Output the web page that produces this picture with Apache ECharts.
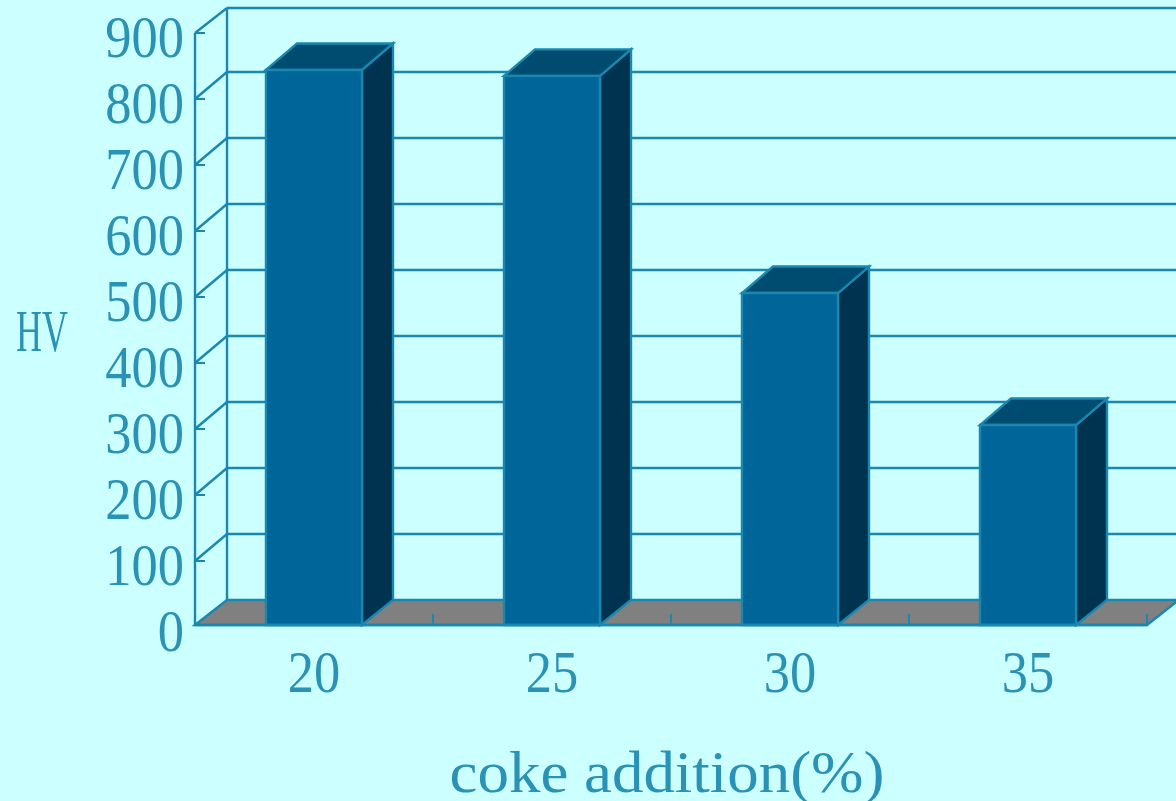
<!DOCTYPE html>
<html>
<head>
<meta charset="utf-8">
<style>
  html, body { margin: 0; padding: 0; background: #CCFFFF; }
  #chart { width: 1176px; height: 801px; }
</style>
<script src="https://cdn.jsdelivr.net/npm/echarts@6/dist/echarts.min.js"></script>
</head>
<body>
<div id="chart"></div>
<script>
// Hardness against coke addition, drawn as pseudo-3D columns
const categories = ['20', '25', '30', '35'];
const hardness = [844, 835, 506, 306];
const yTicks = [0, 100, 200, 300, 400, 500, 600, 700, 800, 900];

const BG = '#CCFFFF';
const LINE = '#1A88AE';
const TEXT = '#2A93B5';
const FRONT = '#006699';
const SIDE = '#003350';
const TOP = '#004C70';
const FLOOR = '#808080';

const WALL_DX = 32, WALL_DY = 27;   // offset of the back wall from the front plane
const BAR_DX = 31, BAR_DY = 26.5;   // depth of each column
const BASE_LIFT = 2;                // floor edge sits slightly above the nominal zero line
const WALL_TOP = 8;
const LINE_W = 2.4;
const FONT = '59px "Liberation Serif"';
const lineStyle = { stroke: LINE, lineWidth: LINE_W, fill: null };

function textEl(x, y, text, align, scaleX) {
  return {
    type: 'text', x: x, y: y, scaleX: scaleX, silent: true,
    style: { x: 0, y: 0, text: text, font: FONT, fill: TEXT, align: align, verticalAlign: 'middle' }
  };
}

function renderWall(params, api) {
  const v = api.value(1);
  const cs = params.coordSys;
  const fy = api.coord([0, v])[1];
  const x0 = cs.x, x1 = cs.x + WALL_DX;
  const by = v === 0 ? fy - WALL_DY : Math.max(WALL_TOP, fy - WALL_DY);
  const kids = [];
  if (v > 0) {
    kids.push({ type: 'line', shape: { x1: x0, y1: fy, x2: x1, y2: by }, style: lineStyle });
    kids.push({ type: 'line', shape: { x1: x1, y1: by, x2: 1180, y2: by }, style: lineStyle });
  }
  if (v === 900) {
    const baseY = api.coord([0, 0])[1];
    kids.push({ type: 'line', shape: { x1: x0, y1: fy, x2: x0, y2: baseY - BASE_LIFT }, style: lineStyle });
    kids.push({ type: 'line', shape: { x1: x1, y1: by, x2: x1, y2: baseY - WALL_DY }, style: lineStyle });
  }
  return { type: 'group', children: kids };
}

function renderFloor(params, api) {
  const cs = params.coordSys;
  const fy = api.coord([0, 0])[1] - BASE_LIFT;
  const by = api.coord([0, 0])[1] - WALL_DY;
  const x0 = cs.x, x1 = cs.x + cs.width;
  return {
    type: 'polygon',
    shape: { points: [[x0, fy], [x0 + WALL_DX, by], [x1 + WALL_DX, by], [x1, fy]] },
    style: { fill: FLOOR, stroke: LINE, lineWidth: LINE_W }
  };
}

function renderColumn(params, api) {
  const c = api.coord([api.value(0), api.value(1)]);
  const base = api.coord([api.value(0), 0])[1] - BASE_LIFT;
  const w = api.size([1, 0])[0] * 0.4034;
  const l = c[0] - w / 2, r = c[0] + w / 2, t = c[1];
  const edge = { stroke: LINE, lineWidth: LINE_W, lineJoin: 'miter' };
  return {
    type: 'group',
    children: [
      { type: 'polygon', shape: { points: [[r, t], [r + BAR_DX, t - BAR_DY], [r + BAR_DX, base - 25], [r, base]] },
        style: Object.assign({ fill: SIDE }, edge) },
      { type: 'polygon', shape: { points: [[l, t], [l + BAR_DX, t - BAR_DY], [r + BAR_DX, t - BAR_DY], [r, t]] },
        style: Object.assign({ fill: TOP }, edge) },
      { type: 'rect', shape: { x: l, y: t, width: w, height: base - t },
        style: Object.assign({ fill: FRONT }, edge) }
    ]
  };
}

function renderYLabel(params, api) {
  const v = api.value(1);
  return textEl(params.coordSys.x - 11, api.coord([0, v])[1] + 8, String(v), 'right', 0.89);
}

function renderXLabel(params, api) {
  const p = api.coord([api.value(0), 0]);
  return textEl(p[0], p[1] + 49, categories[api.value(0)], 'center', 0.89);
}

const chart = echarts.init(document.getElementById('chart'), null, { renderer: 'canvas' });
chart.setOption({
  animation: false,
  backgroundColor: BG,
  grid: { left: 195, right: 29, top: 33, bottom: 174 },
  xAxis: {
    type: 'category',
    data: categories,
    offset: -BASE_LIFT,
    z: 6,
    axisLine: { lineStyle: { color: LINE, width: LINE_W } },
    axisTick: { show: true, inside: true, length: 11, alignWithLabel: false, lineStyle: { color: LINE, width: 2 } },
    axisLabel: { show: false },
    splitLine: { show: false }
  },
  yAxis: {
    type: 'value',
    min: 0,
    max: 900,
    interval: 100,
    z: 6,
    axisLine: { show: false },
    axisTick: { show: true, inside: true, length: 10, customValues: yTicks.slice(1), lineStyle: { color: LINE, width: 2 } },
    axisLabel: { show: false },
    splitLine: { show: false }
  },
  graphic: [
    { type: 'text', x: 42, y: 335.5, scaleX: 0.61, silent: true,
      style: { text: 'HV', font: FONT, fill: TEXT, align: 'center', verticalAlign: 'middle' } },
    { type: 'text', x: 667, y: 776, scaleX: 1.066, silent: true,
      style: { text: 'coke addition(%)', font: FONT, fill: TEXT, align: 'center', verticalAlign: 'middle' } }
  ],
  series: [
    { type: 'custom', name: 'wall', z: 1, silent: true, renderItem: renderWall, data: yTicks.map(v => [0, v]) },
    { type: 'custom', name: 'floor', z: 2, silent: true, renderItem: renderFloor, data: [[0, 0]] },
    { type: 'custom', name: 'HV', z: 4, silent: true, renderItem: renderColumn, data: hardness.map((v, i) => [i, v]) },
    { type: 'custom', name: 'y labels', z: 7, silent: true, renderItem: renderYLabel, data: yTicks.map(v => [0, v]) },
    { type: 'custom', name: 'x labels', z: 7, silent: true, renderItem: renderXLabel, data: categories.map((c, i) => [i, 0]) }
  ]
});
</script>
</body>
</html>
